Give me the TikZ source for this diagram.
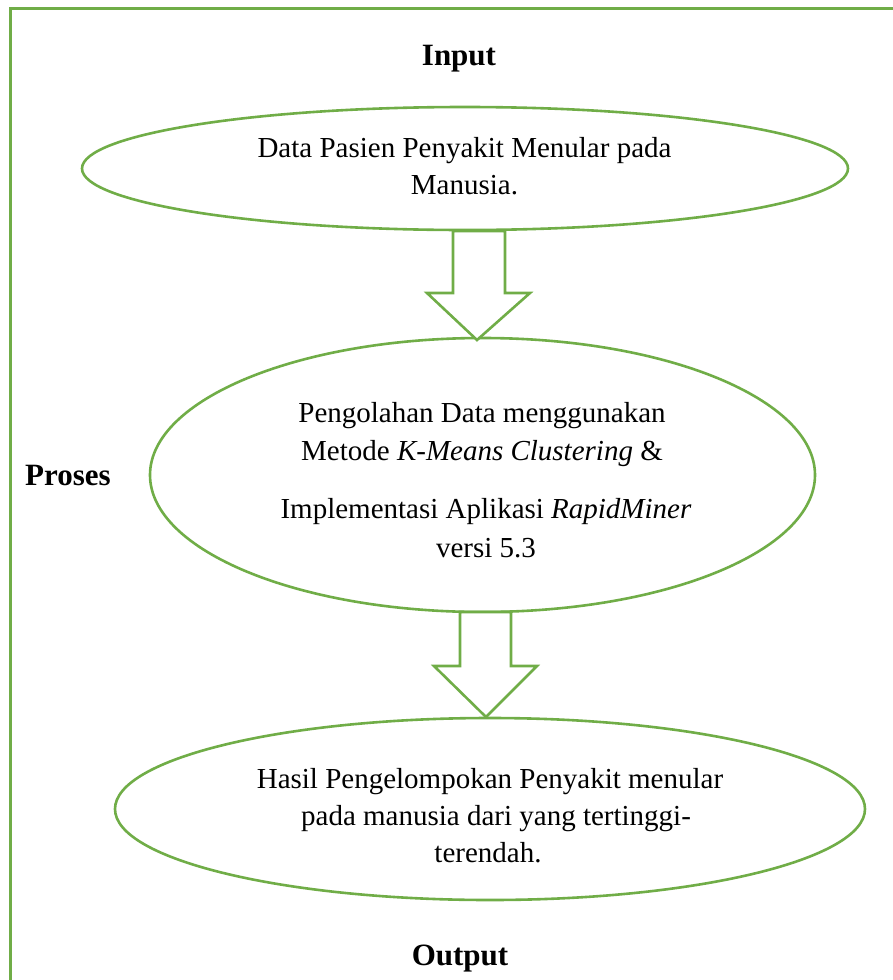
\documentclass[tikz,border=0pt]{standalone}
\usepackage{fontspec}
\setmainfont{Liberation Serif}
\usetikzlibrary{shapes.geometric,calc}
\definecolor{grn}{HTML}{70AD47}
\tikzset{
  ellbox/.style={draw=grn, line width=2.6pt, fill=white, ellipse},
  body/.style={font=\fontsize{29}{37}\selectfont, anchor=base, inner sep=0pt},
  head/.style={font=\fontsize{31}{37}\selectfont\bfseries, anchor=base, inner sep=0pt},
  blockarrow/.style={draw=grn, line width=2.6pt, fill=white, line join=miter}
}
\begin{document}
\begin{tikzpicture}[x=1pt,y=-1pt]
\useasboundingbox (0,0) rectangle (893,980);
\clip (0,0) rectangle (893,980);
\draw[draw=grn, line width=3pt] (10.5,8) rectangle (910,1000);
% ellipses
\node[ellbox, minimum width=766pt, minimum height=123pt] (e1) at (465,168.5) {};
\node[ellbox, minimum width=665pt, minimum height=274pt] (e2) at (482.5,475) {};
\node[ellbox, minimum width=750pt, minimum height=182pt] (e3) at (490,809) {};
% block arrows
\coordinate (a1) at (479,231);
\draw[blockarrow] ($(a1)+(-26,0)$) -- ++(0,62) -- ++(-26,0) -- (477,340) -- (530,293) -- ++(-25,0) -- ++(0,-62) -- cycle;
\coordinate (a2) at (485.5,612);
\draw[blockarrow] ($(a2)+(-25.5,0)$) -- ++(0,54) -- ++(-26,0) -- (486,717) -- (537,666) -- ++(-26,0) -- ++(0,-54) -- cycle;
% headings
\node[head] (hin) at (459,65) {Input};
\node[head] (hpr) at (68,485) {Proses};
\node[head] (hout) at (460,965) {Output};
% texts
\node[body] (t11) at (464.5,157) {Data Pasien Penyakit Menular pada};
\node[body] (t12) at (464.5,194) {Manusia.};
\node[body] (t21) at (482,422) {Pengolahan Data menggunakan};
\node[body] (t22) at (482,460) {Metode \textit{K-Means Clustering} \&};
\node[body] (t23) at (486,518) {Implementasi Aplikasi \textit{RapidMiner}};
\node[body] (t24) at (486,557) {versi 5.3};
\node[body] (t31) at (490,788) {Hasil Pengelompokan Penyakit menular};
\node[body] (t32) at (496,825) {pada manusia dari yang tertinggi-};
\node[body] (t33) at (488,862) {terendah.};
\end{tikzpicture}
\end{document}
